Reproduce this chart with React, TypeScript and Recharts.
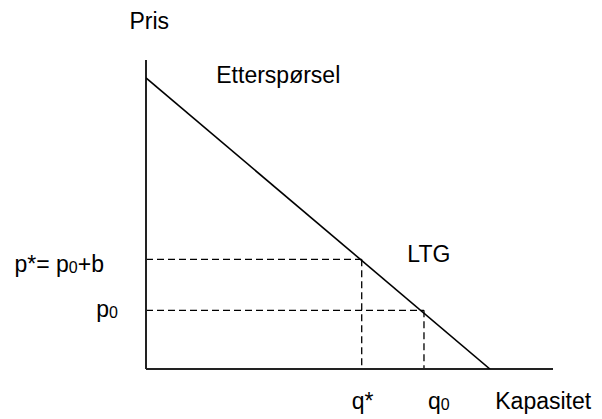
import React from "react";
import { ComposedChart, Line, XAxis, YAxis, ReferenceLine, ReferenceDot } from "recharts";

// Demand (Etterspørsel) line endpoints in data units
const demand = [
  { x: 0, y: 94.2 },
  { x: 84.5, y: 0 },
];
const qStar = 53;
const q0 = 68.3;
const pStar = 35.5;
const p0 = 19;
const axisMax = 100;
const textLabels = [
  { text: "Pris", x: 0.8, y: 112.5 },
  { text: "Etterspørsel", x: 32.5, y: 95.3 },
  { text: "LTG", x: 69.5, y: 37.2 },
  { text: "Kapasitet", x: 97.6, y: -10.4 },
];

const FONT = "Liberation Sans, Arial, sans-serif";
const FS = 23;

const Sub = ({ children }: { children: React.ReactNode }) => (
  <tspan fontSize={16} dy={1}>{children}</tspan>
);

const tickDefs = [
  { key: "pStar", x: 0, y: pStar, dx: -42, dy: 13, anchor: "end", body: <>p*= p<Sub>0</Sub><tspan dy={-1}>+b</tspan></> },
  { key: "p0", x: 0, y: p0, dx: -28, dy: 7, anchor: "end", body: <>p<Sub>0</Sub></> },
  { key: "qStar", x: qStar, y: 0, dx: 1, dy: 40, anchor: "middle", body: <>q*</> },
  { key: "q0", x: q0, y: 0, dx: 4, dy: 40, anchor: "start", body: <>q<Sub>0</Sub></> },
];

const dash = { stroke: "#000", strokeWidth: 1.3, strokeDasharray: "7 4" };

export default function App() {
  return (
    <ComposedChart
      width={602}
      height={419}
      data={demand}
      margin={{ top: 52, right: 57, bottom: 58, left: 138 }}
    >
      <XAxis type="number" dataKey="x" domain={[0, axisMax]} hide allowDataOverflow />
      <YAxis type="number" domain={[0, axisMax]} hide allowDataOverflow />
      <ReferenceLine segment={[{ x: 0, y: pStar }, { x: qStar, y: pStar }]} {...dash} />
      <ReferenceLine segment={[{ x: qStar, y: pStar }, { x: qStar, y: 0 }]} {...dash} />
      <ReferenceLine segment={[{ x: 0, y: p0 }, { x: q0, y: p0 }]} {...dash} />
      <ReferenceLine segment={[{ x: q0, y: p0 }, { x: q0, y: 0 }]} {...dash} />
      <ReferenceLine segment={[{ x: 0, y: 0 }, { x: 0, y: axisMax }]} stroke="#222" strokeWidth={2} />
      <ReferenceLine segment={[{ x: 0, y: 0 }, { x: axisMax, y: 0 }]} stroke="#222" strokeWidth={2} />
      <Line
        type="linear"
        dataKey="y"
        stroke="#000"
        strokeWidth={1.6}
        dot={false}
        isAnimationActive={false}
      />
      {tickDefs.map((t) => (
        <ReferenceDot
          key={t.key}
          x={t.x}
          y={t.y}
          r={0}
          ifOverflow="visible"
          shape={(p: any) => (
            <text
              x={p.cx + t.dx}
              y={p.cy + t.dy}
              textAnchor={t.anchor as any}
              fontFamily={FONT}
              fontSize={FS}
              fill="#000"
            >
              {t.body}
            </text>
          )}
        />
      ))}
      {textLabels.map((l) => (
        <ReferenceDot
          key={l.text}
          x={l.x}
          y={l.y}
          r={0}
          ifOverflow="visible"
          shape={(p: any) => (
            <text
              x={p.cx}
              y={p.cy}
              dy={8}
              textAnchor="middle"
              fontFamily={FONT}
              fontSize={FS}
              fill="#000"
            >
              {l.text}
            </text>
          )}
        />
      ))}
    </ComposedChart>
  );
}
